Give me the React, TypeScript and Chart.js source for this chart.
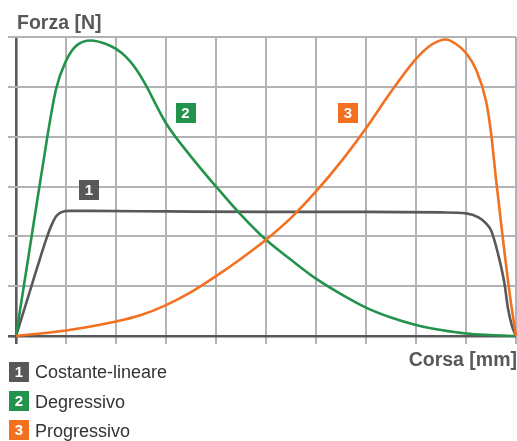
import React, { useEffect, useRef } from "react";
import { Chart, registerables } from "chart.js";

Chart.register(...registerables);

// Data (x in grid units of "Corsa", y in grid units of "Forza")
const constLinX = [0, 0.3, 0.5, 0.6, 0.7, 0.8, 0.9, 1.05, 1.5, 3, 5, 7, 8.5, 9.0, 9.25, 9.4, 9.5, 9.64, 9.77, 9.84, 9.92, 10];
const constLinY = [0, 0.97, 1.62, 1.93, 2.2, 2.4, 2.48, 2.51, 2.51, 2.5, 2.49, 2.49, 2.48, 2.46, 2.38, 2.26, 2.12, 1.65, 1.05, 0.55, 0.2, 0];

const degrX = [0, 0.25, 0.5, 0.8, 1.0, 1.2, 1.5, 1.8, 2.0, 2.2, 2.4, 2.6, 2.8, 3.0, 3.5, 4.0, 4.5, 5.0, 5.5, 6.0, 6.5, 7.0, 7.5, 8.0, 8.5, 9.0, 9.5, 10];
const degrY = [0, 1.6, 3.2, 4.95, 5.52, 5.82, 5.93, 5.86, 5.76, 5.6, 5.36, 5.03, 4.64, 4.27, 3.6, 3.0, 2.43, 1.93, 1.53, 1.15, 0.84, 0.57, 0.37, 0.22, 0.12, 0.05, 0.02, 0];

const progrX = [0, 1, 2, 2.5, 3.0, 3.5, 4.0, 4.5, 5.0, 5.5, 6.0, 6.5, 7.0, 7.5, 8.0, 8.3, 8.6, 8.8, 9.0, 9.2, 9.4, 9.5, 9.6, 9.75, 9.88, 10];
const progrY = [0, 0.11, 0.29, 0.42, 0.62, 0.88, 1.2, 1.55, 1.93, 2.37, 2.9, 3.5, 4.17, 4.9, 5.56, 5.84, 5.95, 5.86, 5.68, 5.35, 4.72, 4.08, 3.15, 1.85, 0.8, 0];

const seriesNames = ["Costante-lineare", "Degressivo", "Progressivo"];
const seriesNumbers = ["1", "2", "3"];
const seriesColors = ["#58585a", "#23934b", "#f37021"];
// label box positions in data coordinates
const labelX = [1.46, 3.39, 6.64];
const labelY = [2.93, 4.47, 4.47];

const yTitle = "Forza [N]";
const xTitle = "Corsa [mm]";

const GRID = "#b3b3b6";
const AXIS = "#58585a";
const FONT = "'Liberation Sans', Arial, sans-serif";

function toPts(xs: number[], ys: number[]) {
  return xs.map((x, i) => ({ x, y: ys[i] }));
}

const overlayPlugin = {
  id: "overlay",
  afterDatasetsDraw(chart: any) {
    const { ctx, scales } = chart;
    const xs = scales.x;
    const ys = scales.y;
    ctx.save();
    // in-chart number boxes
    for (let i = 0; i < 3; i++) {
      const cx = xs.getPixelForValue(labelX[i]);
      const cy = ys.getPixelForValue(labelY[i]);
      ctx.fillStyle = seriesColors[i];
      ctx.fillRect(Math.round(cx - 10), Math.round(cy - 10), 20, 20);
      ctx.fillStyle = "#ffffff";
      ctx.font = `bold 15px ${FONT}`;
      ctx.textAlign = "center";
      ctx.textBaseline = "middle";
      ctx.fillText(seriesNumbers[i], cx, cy + 1);
    }
    // axis titles
    ctx.fillStyle = AXIS;
    ctx.font = `bold 19.5px ${FONT}`;
    ctx.textBaseline = "alphabetic";
    ctx.textAlign = "left";
    ctx.fillText(yTitle, 17, 29);
    ctx.textAlign = "right";
    ctx.fillText(xTitle, 517, 366);
    // legend
    const rowBase = [378, 408, 437];
    const rowTop = [362, 391, 420];
    for (let i = 0; i < 3; i++) {
      ctx.fillStyle = seriesColors[i];
      ctx.fillRect(9, rowTop[i], 20, 20);
      ctx.fillStyle = "#ffffff";
      ctx.font = `bold 15px ${FONT}`;
      ctx.textAlign = "center";
      ctx.textBaseline = "middle";
      ctx.fillText(seriesNumbers[i], 19, rowTop[i] + 11);
      ctx.fillStyle = "#333333";
      ctx.font = `18px ${FONT}`;
      ctx.textAlign = "left";
      ctx.textBaseline = "alphabetic";
      ctx.fillText(seriesNames[i], 35, rowBase[i]);
    }
    ctx.restore();
  },
};

export default function App() {
  const ref = useRef<HTMLCanvasElement | null>(null);
  useEffect(() => {
    if (!ref.current) return;
    const chart = new Chart(ref.current, {
      type: "line",
      data: {
        datasets: [
          { label: seriesNames[2], data: toPts(progrX, progrY), borderColor: seriesColors[2] },
          { label: seriesNames[1], data: toPts(degrX, degrY), borderColor: seriesColors[1] },
          { label: seriesNames[0], data: toPts(constLinX, constLinY), borderColor: seriesColors[0] },
        ].map((d) => ({
          ...d,
          borderWidth: 2.6,
          pointRadius: 0,
          fill: false,
          cubicInterpolationMode: "monotone" as const,
          clip: false as any,
        })),
      },
      options: {
        animation: false,
        responsive: false,
        layout: { padding: { left: 8, right: 1, top: 37, bottom: 97 } },
        plugins: { legend: { display: false }, tooltip: { enabled: false } },
        scales: {
          x: {
            type: "linear",
            min: 0,
            max: 10,
            ticks: { display: false, stepSize: 1 },
            border: { display: false },
            grid: {
              color: (c: any) => (c.tick && c.tick.value === 0 ? AXIS : GRID),
              lineWidth: (c: any) => (c.tick && c.tick.value === 0 ? 2.6 : 2),
              tickLength: 8,
            },
          },
          y: {
            type: "linear",
            min: 0,
            max: 6,
            ticks: { display: false, stepSize: 1 },
            border: { display: false },
            grid: {
              color: (c: any) => (c.tick && c.tick.value === 0 ? AXIS : GRID),
              lineWidth: (c: any) => (c.tick && c.tick.value === 0 ? 2.6 : 2),
              tickLength: 8,
            },
          },
        },
      },
      plugins: [overlayPlugin],
    });
    return () => chart.destroy();
  }, []);
  return (
    <div style={{ position: "fixed", left: 0, top: 0, width: 517, height: 441, background: "#fff" }}>
      <canvas ref={ref} width={517} height={441} style={{ display: "block" }} />
    </div>
  );
}
